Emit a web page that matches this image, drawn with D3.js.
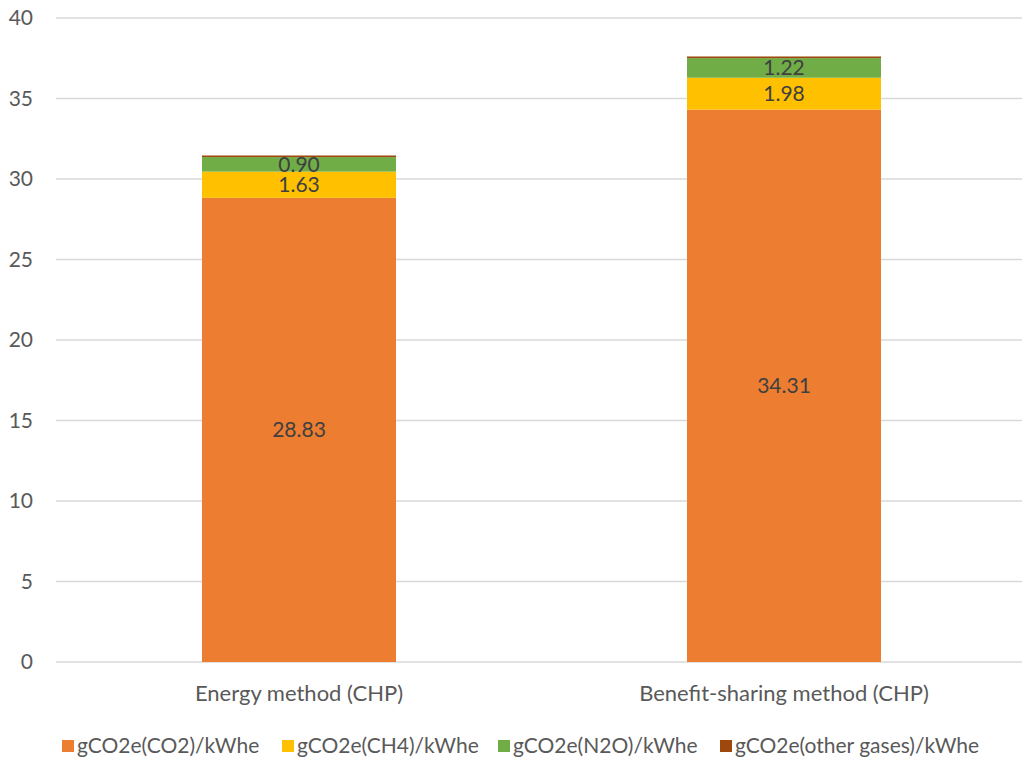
<!DOCTYPE html>
<html><head><meta charset="utf-8">
<script src="https://cdn.jsdelivr.net/npm/d3@7/dist/d3.min.js"></script>
<style>body{margin:0;background:#fff;} svg{display:block;}</style>
</head><body>
<svg id="chart" width="1022" height="763"></svg>
<script>
const categories = ["Energy method (CHP)", "Benefit-sharing method (CHP)"];
const seriesNames = ["gCO2e(CO2)/kWhe", "gCO2e(CH4)/kWhe", "gCO2e(N2O)/kWhe", "gCO2e(other gases)/kWhe"];
const co2 = [28.83, 34.31];
const ch4 = [1.63, 1.98];
const n2o = [0.90, 1.22];
const other = [0.10, 0.10];
const yTicks = [0, 5, 10, 15, 20, 25, 30, 35, 40];
const colors = ["#ED7D31", "#FFC000", "#70AD47", "#9E480E"];

const font = "Lato, 'Open Sans', sans-serif";
const svg = d3.select("#chart");
const y = d3.scaleLinear().domain([0, 40]).range([662, 18]);
const x = d3.scaleBand().domain(categories).range([56.5, 1026.5]).paddingInner(0.6).paddingOuter(0.3);

const data = categories.map((c, i) => ({cat: c, s0: co2[i], s1: ch4[i], s2: n2o[i], s3: other[i]}));
const stack = d3.stack().keys(["s0", "s1", "s2", "s3"]);
const layers = stack(data);

// gridlines
svg.append("g").selectAll("line").data(yTicks).join("line")
  .attr("x1", 56).attr("x2", 1022)
  .attr("y1", d => y(d)).attr("y2", d => y(d))
  .attr("stroke", "#d9d9d9").attr("stroke-width", 1.5);

// y tick labels
svg.append("g").selectAll("text").data(yTicks).join("text")
  .attr("x", 33).attr("y", d => y(d)).attr("dy", "0.35em")
  .attr("text-anchor", "end").attr("font-family", font).attr("font-size", 21)
  .attr("fill", "#595959").text(d => d);

// bars
layers.forEach((layer, li) => {
  svg.append("g").selectAll("rect").data(layer).join("rect")
    .attr("x", d => x(d.data.cat)).attr("width", x.bandwidth())
    .attr("y", d => y(d[1])).attr("height", d => y(d[0]) - y(d[1]))
    .attr("fill", colors[li]);
});

// data labels (first three series)
layers.slice(0, 3).forEach((layer) => {
  svg.append("g").selectAll("text").data(layer).join("text")
    .attr("x", d => x(d.data.cat) + x.bandwidth() / 2)
    .attr("y", d => (y(d[0]) + y(d[1])) / 2).attr("dy", "0.36em")
    .attr("text-anchor", "middle").attr("font-family", font).attr("font-size", 21)
    .attr("fill", "#404040").text(d => (d[1] - d[0]).toFixed(2));
});

// category labels
svg.append("g").selectAll("text").data(categories).join("text")
  .attr("x", d => x(d) + x.bandwidth() / 2).attr("y", 701)
  .attr("text-anchor", "middle").attr("font-family", font).attr("font-size", 22)
  .attr("fill", "#595959").text(d => d);

// legend
const legendX = [62, 282, 498, 720];
const lg = svg.append("g").selectAll("g").data(seriesNames).join("g")
  .attr("transform", (d, i) => `translate(${legendX[i]},746)`);
lg.append("rect").attr("x", 0).attr("y", -6).attr("width", 12).attr("height", 12)
  .attr("fill", (d, i) => colors[i]);
lg.append("text").attr("x", 15).attr("y", 0).attr("dy", "0.35em")
  .attr("font-family", font).attr("font-size", 21).attr("fill", "#595959").text(d => d);
</script>
</body></html>
